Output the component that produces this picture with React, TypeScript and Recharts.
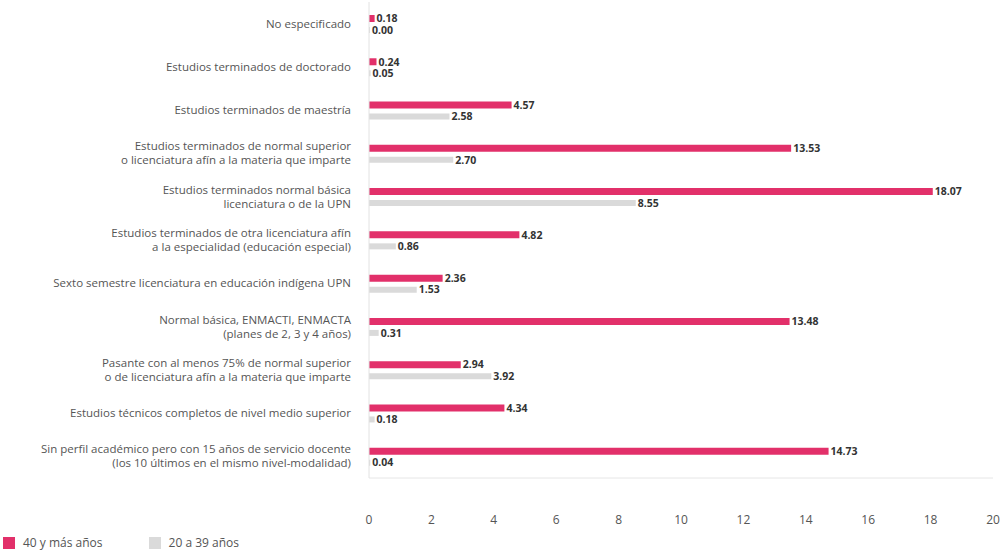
import React from 'react';
import { BarChart, Bar, XAxis, YAxis, LabelList } from 'recharts';

const categorias = [
  'No especificado',
  'Estudios terminados de doctorado',
  'Estudios terminados de maestría',
  'Estudios terminados de normal superior\no licenciatura afín a la materia que imparte',
  'Estudios terminados normal básica\nlicenciatura o de la UPN',
  'Estudios terminados de otra licenciatura afín\na la especialidad (educación especial)',
  'Sexto semestre licenciatura en educación indígena UPN',
  'Normal básica, ENMACTI, ENMACTA\n(planes de 2, 3 y 4 años)',
  'Pasante con al menos 75% de normal superior\no de licenciatura afín a la materia que imparte',
  'Estudios técnicos completos de nivel medio superior',
  'Sin perfil académico pero con 15 años de servicio docente\n(los 10 últimos en el mismo nivel-modalidad)',
];

const mayores40 = [0.18, 0.24, 4.57, 13.53, 18.07, 4.82, 2.36, 13.48, 2.94, 4.34, 14.73];
const de20a39 = [0.0, 0.05, 2.58, 2.7, 8.55, 0.86, 1.53, 0.31, 3.92, 0.18, 0.04];

const xTicks = [0, 2, 4, 6, 8, 10, 12, 14, 16, 18, 20];

const ROSA = '#e2306a';
const GRIS = '#dadada';
const FONT = '"Open Sans", sans-serif';

const data = categorias.map((c, i) => ({
  name: c,
  mayores: mayores40[i],
  jovenes: de20a39[i],
}));

const CategoryTick = (props: any) => {
  const { x, y, payload } = props;
  const lines = String(payload.value).split('\n');
  const lh = 14;
  const start = -((lines.length - 1) * lh) / 2;
  return (
    <text x={x - 10} y={y} textAnchor="end" fontSize={11.5} fill="#555" fontFamily={FONT}>
      {lines.map((l, i) => (
        <tspan key={i} x={x - 10} dy={i === 0 ? start + 4 : lh}>
          {l}
        </tspan>
      ))}
    </text>
  );
};

const fmt = (v: any) => Number(v).toFixed(2);

const labelStyle = { fontSize: 10.5, fontWeight: 700, fill: '#333', fontFamily: FONT };

export default function App() {
  return (
    <div style={{ position: 'absolute', left: 0, top: 0, width: 1008, height: 553, background: '#fff' }}>
      <BarChart
        width={1008}
        height={530}
        data={data}
        layout="vertical"
        margin={{ top: 2, right: 15, left: 0, bottom: 0 }}
        barGap={5}
        barCategoryGap={0}
      >
        <XAxis
          type="number"
          domain={[0, 20]}
          ticks={xTicks}
          tickLine={false}
          tickSize={0}
          tickMargin={37}
          height={52}
          axisLine={{ stroke: '#e6e6e6' }}
          tick={{ fontSize: 12, fill: '#555', fontFamily: FONT }}
        />
        <YAxis
          type="category"
          dataKey="name"
          width={369}
          tickLine={false}
          axisLine={{ stroke: '#e2e2e2' }}
          tick={<CategoryTick />}
          interval={0}
        />
        <Bar dataKey="mayores" fill={ROSA} barSize={7} isAnimationActive={false}>
          <LabelList dataKey="mayores" position="right" offset={2} formatter={fmt} style={labelStyle} />
        </Bar>
        <Bar dataKey="jovenes" fill={GRIS} barSize={6} minPointSize={1} isAnimationActive={false}>
          <LabelList dataKey="jovenes" position="right" offset={2} formatter={fmt} style={labelStyle} />
        </Bar>
      </BarChart>
      <div
        style={{
          position: 'absolute',
          left: 3,
          top: 534,
          display: 'flex',
          alignItems: 'center',
          fontFamily: FONT,
          fontSize: 12,
          color: '#555',
        }}
      >
        <span style={{ width: 12, height: 12, background: ROSA, display: 'inline-block', marginRight: 8 }} />
        <span style={{ marginRight: 46 }}>40 y más años</span>
        <span style={{ width: 12, height: 12, background: GRIS, display: 'inline-block', marginRight: 8 }} />
        <span>20 a 39 años</span>
      </div>
    </div>
  );
}
